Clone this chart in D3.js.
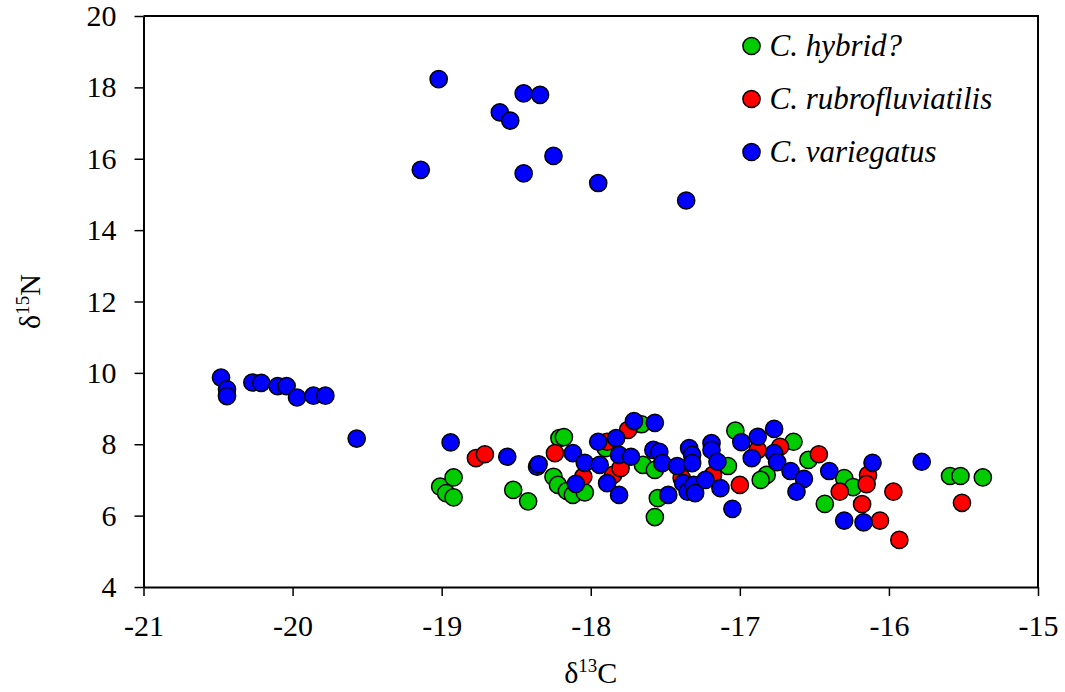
<!DOCTYPE html>
<html>
<head>
<meta charset="utf-8">
<script src="https://cdn.jsdelivr.net/npm/d3@7"></script>
<style>
	body { margin: 0; background: #fff; }
	svg text { font-family: "Liberation Serif", "Times New Roman", serif !important; }
</style>
</head>
<body>
<div id="chart"></div>
<script>
// series: [d13C, d15N]
const hybrid = [
	[-19.01,6.81],[-18.92,7.07],[-18.97,6.63],[-18.92,6.51],[-18.52,6.72],[-18.42,6.40],
	[-18.21,8.17],[-18.18,8.20],[-18.25,7.09],[-18.22,6.86],[-18.16,6.69],[-18.12,6.58],
	[-18.04,6.65],[-17.90,7.89],[-17.66,8.56],[-17.65,7.42],[-17.57,7.28],[-17.55,6.49],
	[-17.57,5.96],[-17.03,8.38],[-17.08,7.39],[-16.82,7.14],[-16.86,7.00],[-16.64,8.07],
	[-16.54,7.56],[-16.43,6.33],[-16.30,7.05],[-16.24,6.80],[-15.59,7.11],[-15.52,7.11],
	[-15.37,7.07]
];
const rubro = [
	[-18.77,7.61],[-18.71,7.72],[-18.24,7.75],[-18.05,7.09],[-17.89,8.07],[-17.85,7.14],
	[-17.80,7.33],[-17.75,8.40],[-17.39,7.05],[-17.18,7.14],[-17.00,6.86],[-16.88,7.84],
	[-16.73,7.93],[-16.47,7.72],[-16.33,6.67],[-16.14,7.14],[-16.15,6.88],[-16.18,6.32],
	[-16.06,5.86],[-15.97,6.67],[-15.93,5.32],[-15.51,6.36]
];
const variegatus = [
	[-19.02,18.23],[-18.45,17.83],[-18.34,17.79],[-18.61,17.30],[-18.54,17.07],[-19.14,15.69],
	[-18.45,15.59],[-18.25,16.08],[-17.95,15.32],[-17.36,14.83],
	[-20.48,9.87],[-20.44,9.54],[-20.44,9.35],[-20.27,9.73],[-20.21,9.72],[-20.10,9.63],
	[-20.04,9.63],[-19.97,9.31],[-19.86,9.36],[-19.78,9.36],[-19.57,8.16],
	[-18.94,8.05],[-18.56,7.65],[-18.36,7.37],[-18.35,7.44],[-18.12,7.75],[-18.04,7.48],
	[-18.10,6.89],[-17.95,8.07],[-17.94,7.42],[-17.83,8.17],[-17.71,8.65],[-17.57,8.60],
	[-17.81,7.70],[-17.89,6.91],[-17.81,6.58],[-17.73,7.65],[-17.58,7.84],[-17.54,7.79],
	[-17.52,7.47],[-17.48,6.58],[-17.42,7.39],[-17.38,6.91],[-17.34,7.89],[-17.32,7.70],
	[-17.32,7.47],[-17.35,6.67],[-17.31,6.86],[-17.30,6.63],[-17.23,7.00],[-17.19,8.03],
	[-17.19,7.84],[-17.15,7.51],[-17.13,6.77],[-17.05,6.19],[-16.99,8.06],[-16.88,8.21],
	[-16.77,8.43],[-16.92,7.61],[-16.77,7.75],[-16.75,7.50],[-16.66,7.25],[-16.57,7.03],
	[-16.62,6.67],[-16.40,7.25],[-16.30,5.86],[-16.17,5.81],[-16.11,7.48],[-15.78,7.51]
];
const seriesNames = ["C. hybrid?", "C. rubrofluviatilis", "C. variegatus"];
const seriesColors = ["#00cc00", "#ff0000", "#0000ff"];
const xTicks = [-21, -20, -19, -18, -17, -16, -15];
const yTicks = [4, 6, 8, 10, 12, 14, 16, 18, 20];

const margin = {top: 16, right: 27, bottom: 105, left: 143.5},
		width = 1065 - margin.left - margin.right,
		height = 692 - margin.top - margin.bottom;

const svg = d3.select("#chart")
	.append("svg")
		.attr("width", 1065)
		.attr("height", 692)
	.append("g")
		.attr("transform", `translate(${margin.left},${margin.top})`);

const x = d3.scaleLinear().domain([-21, -15]).range([0, width]);
const y = d3.scaleLinear().domain([4, 20]).range([height, 0]);

// frame (top and right)
svg.append("path")
	.attr("d", `M0,0H${width}V${height}`)
	.attr("fill", "none")
	.attr("stroke", "#000")
	.attr("stroke-width", 2);

// x axis
const gx = svg.append("g")
	.attr("transform", `translate(0,${height})`)
	.call(d3.axisBottom(x).tickValues(xTicks).tickSize(9).tickSizeOuter(0)
		.tickFormat(d => String(d)).tickPadding(19));
// y axis
const gy = svg.append("g")
	.call(d3.axisLeft(y).tickValues(yTicks).tickSize(9).tickSizeOuter(0).tickPadding(18));

[gx, gy].forEach(g => {
	g.attr("font-family", null).attr("font-size", null);
	g.select(".domain").attr("stroke-width", 2);
	g.selectAll(".tick line").attr("stroke-width", 1.5);
	g.selectAll(".tick text")
		.style("font-size", "30px")
		.attr("fill", "#000");
});

// points
[hybrid, rubro, variegatus].forEach((data, i) => {
	svg.append("g")
		.selectAll("circle")
		.data(data)
		.join("circle")
			.attr("cx", d => x(d[0]))
			.attr("cy", d => y(d[1]))
			.attr("r", 8.6)
			.attr("fill", seriesColors[i])
			.attr("stroke", "#000")
			.attr("stroke-width", 1.5);
});

// legend
const legend = svg.append("g").attr("transform", `translate(${751.5 - margin.left},${46 - margin.top})`);
seriesNames.forEach((name, i) => {
	const row = legend.append("g").attr("transform", `translate(0,${i * 53})`);
	row.append("circle")
		.attr("r", 8.6)
		.attr("fill", seriesColors[i])
		.attr("stroke", "#000")
		.attr("stroke-width", 1.5);
	row.append("text")
		.attr("x", 18)
		.attr("y", 10)
		.style("font-size", "31px")
		.style("font-style", "italic")
		.text(name);
});

// axis titles
const xt = svg.append("text")
	.attr("x", width / 2)
	.attr("y", height + 96)
	.attr("text-anchor", "middle")
	.style("font-size", "30px");
xt.append("tspan").text("δ");
xt.append("tspan").style("font-size", "19px").attr("dy", -11).text("13");
xt.append("tspan").attr("dy", 11).text("C");

const yt = svg.append("text")
	.attr("transform", `translate(${-margin.left + 40},${height / 2}) rotate(-90)`)
	.attr("text-anchor", "middle")
	.style("font-size", "30px");
yt.append("tspan").text("δ");
yt.append("tspan").style("font-size", "19px").attr("dy", -11).text("15");
yt.append("tspan").attr("dy", 11).text("N");
</script>
</body>
</html>
